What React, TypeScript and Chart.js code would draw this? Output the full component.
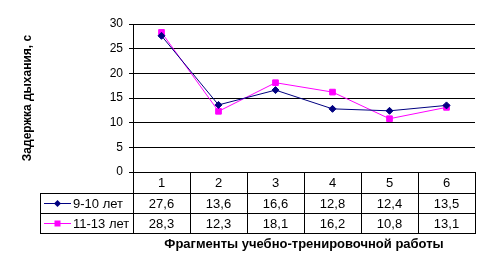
import React, { useEffect, useRef } from "react";
import { Chart, registerables } from "chart.js";

Chart.register(...registerables);

const categories = ["1", "2", "3", "4", "5", "6"];
const seriesNames = ["9-10 лет", "11-13 лет"];
const values910 = [27.6, 13.6, 16.6, 12.8, 12.4, 13.5];
const values1113 = [28.3, 12.3, 18.1, 16.2, 10.8, 13.1];
const yTicks = [0, 5, 10, 15, 20, 25, 30];
const yTitle = "Задержка дыхания, с";
const xTitle = "Фрагменты учебно-тренировочной работы";

const FONT = "'Liberation Sans', Arial, sans-serif";
const NAVY = "#000080";
const MAGENTA = "#FF00FF";

const fmt = (v: number) => v.toFixed(1).replace(".", ",");

const seriesValues = [values910, values1113];
const seriesColors = [NAVY, MAGENTA];
const seriesMarkers = ["diamond", "square"];

const tablePlugin = {
  id: "dataTable",
  afterDraw(chart: any) {
    const ctx = chart.ctx as CanvasRenderingContext2D;
    const xs = chart.scales.x;
    const area = chart.chartArea;
    const n = categories.length;
    const colW = (area.right - area.left) / n;
    const top = Math.round(area.bottom);
    const headerH = 21;
    const rowH = 20;
    const legendLeft = 40;
    const r1 = top + headerH;
    const r2 = r1 + rowH;
    const r3 = r2 + rowH;
    const left = Math.round(area.left);
    const right = Math.round(area.right);
    const hl = (x1: number, x2: number, y: number) => {
      ctx.beginPath();
      ctx.moveTo(x1, y + 0.5);
      ctx.lineTo(x2 + 1, y + 0.5);
      ctx.stroke();
    };
    const vl = (x: number, y1: number, y2: number) => {
      ctx.beginPath();
      ctx.moveTo(x + 0.5, y1);
      ctx.lineTo(x + 0.5, y2 + 1);
      ctx.stroke();
    };
    ctx.save();
    ctx.strokeStyle = "#000";
    ctx.lineWidth = 1;
    hl(legendLeft, right, r1);
    hl(legendLeft, right, r2);
    hl(legendLeft, right, r3);
    vl(legendLeft, r1, r3);
    vl(left, top, r3);
    for (let i = 0; i < n; i++) {
      const bx = Math.round(xs.getPixelForValue(i) + colW / 2);
      vl(Math.min(bx, right), top, r3);
    }
    ctx.fillStyle = "#000";
    ctx.font = `13px ${FONT}`;
    ctx.textAlign = "center";
    ctx.textBaseline = "middle";
    categories.forEach((c, i) => {
      ctx.fillText(c, xs.getPixelForValue(i), top + headerH / 2 + 1);
    });
    seriesValues.forEach((vals, s) => {
      const yMid = r1 + rowH * s + rowH / 2 + 1;
      vals.forEach((v, i) => {
        ctx.fillText(fmt(v), xs.getPixelForValue(i), yMid);
      });
    });
    // legend keys
    seriesNames.forEach((name, s) => {
      const yMid = r1 + rowH * s + rowH / 2 + 0.5;
      ctx.strokeStyle = seriesColors[s];
      ctx.beginPath();
      ctx.moveTo(44, yMid);
      ctx.lineTo(71, yMid);
      ctx.stroke();
      ctx.fillStyle = seriesColors[s];
      const cx = 57.5;
      if (seriesMarkers[s] === "diamond") {
        ctx.beginPath();
        ctx.moveTo(cx, yMid - 3.5);
        ctx.lineTo(cx + 3.5, yMid);
        ctx.lineTo(cx, yMid + 3.5);
        ctx.lineTo(cx - 3.5, yMid);
        ctx.closePath();
        ctx.fill();
      } else {
        ctx.fillRect(cx - 3, yMid - 3, 6, 6);
      }
      ctx.fillStyle = "#000";
      ctx.textAlign = "left";
      ctx.fillText(name, 73, yMid + 0.5);
    });
    ctx.restore();
  },
};

export default function App() {
  const ref = useRef<HTMLCanvasElement | null>(null);

  useEffect(() => {
    document.body.style.margin = "0";
    if (!ref.current) return;
    const chart = new Chart(ref.current, {
      type: "line",
      data: {
        labels: categories,
        datasets: [
          {
            label: seriesNames[0],
            data: values910,
            borderColor: NAVY,
            backgroundColor: NAVY,
            borderWidth: 1,
            pointStyle: "rectRot",
            pointRadius: 3.5,
            pointBorderWidth: 1,
            tension: 0,
          },
          {
            label: seriesNames[1],
            data: values1113,
            borderColor: MAGENTA,
            backgroundColor: MAGENTA,
            borderWidth: 1,
            pointStyle: "rect",
            pointRadius: 4,
            pointBorderWidth: 1,
            tension: 0,
          },
        ],
      },
      options: {
        animation: false,
        responsive: false,
        maintainAspectRatio: false,
        devicePixelRatio: 1,
        layout: { padding: { top: 24, right: 16, bottom: 0, left: 0 } },
        plugins: {
          legend: { display: false },
          tooltip: { enabled: false },
        },
        scales: {
          x: {
            type: "category",
            offset: true,
            grid: { display: false },
            border: { display: false },
            ticks: { display: false },
            title: {
              display: true,
              text: xTitle,
              color: "#000",
              font: { family: FONT, size: 13, weight: "bold" },
              padding: { top: 0, bottom: 19 },
            },
            afterFit: (s: any) => {
              s.height = 99;
            },
          },
          y: {
            min: 0,
            max: 30,
            afterBuildTicks: (s: any) => {
              s.ticks = yTicks.map((v) => ({ value: v }));
            },
            ticks: {
              color: "#000",
              font: { family: FONT, size: 12 },
              padding: 6,
            },
            grid: { color: "#000", lineWidth: 1, tickLength: 4, drawTicks: true },
            border: { display: true, color: "#000", width: 1 },
            title: {
              display: true,
              text: yTitle,
              color: "#000",
              font: { family: FONT, size: 12, weight: "bold" },
              padding: { top: 20, bottom: 0 },
            },
            afterFit: (s: any) => {
              s.width = 133;
            },
          },
        },
      },
      plugins: [tablePlugin],
    });
    return () => chart.destroy();
  }, []);

  return (
    <div style={{ width: 491, height: 271 }}>
      <canvas ref={ref} width={491} height={271} />
    </div>
  );
}
